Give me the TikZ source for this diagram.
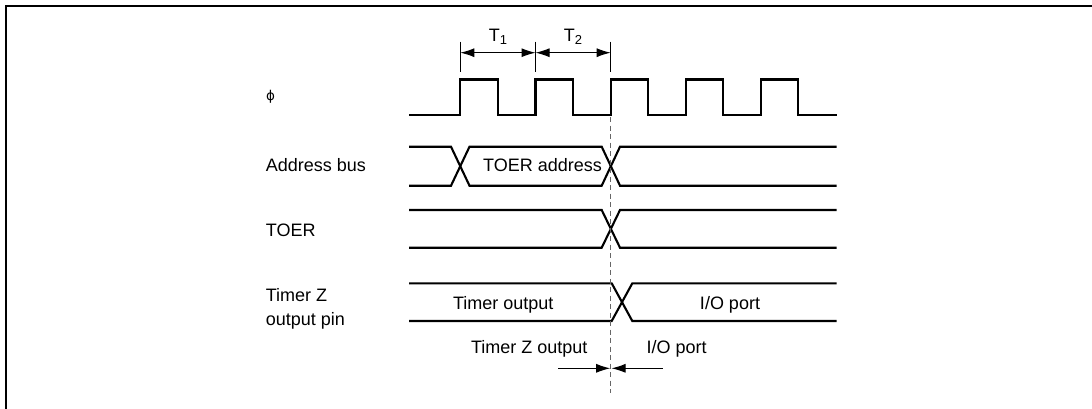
\documentclass[tikz,border=0pt]{standalone}
\usepackage{fontspec}
\setmainfont{Liberation Sans}
\newfontfamily\phifont{DejaVu Sans}
\usetikzlibrary{calc, positioning}
\usetikzlibrary{arrows.meta}

\newcommand{\tsub}[1]{\raisebox{-3.3pt}{\fontsize{13}{13}\selectfont #1}}

\tikzset{
  sig/.style={line width=2.1pt, black, line join=miter},
  dim/.style={line width=1pt, black},
  tip/.style={-{Latex[length=14pt,width=9pt]}},
  both/.style={{Latex[length=14pt,width=9pt]}-{Latex[length=14pt,width=9pt]}},
  cut/.style={line width=1.3pt, black!60, dash pattern=on 5pt off 3.5pt},
  lbl/.style={font=\fontsize{18}{22}\selectfont, inner sep=0pt},
}

\begin{document}
\begin{tikzpicture}[x=1pt,y=-1pt]
\useasboundingbox (0,0) rectangle (1092,408);
\def\xs{409}
\def\xe{836.7}
\def\lo{115}
\def\hi{79.5}
\def\xc{610.7}

% Frame
\draw[line width=2.4pt] (5.7,410) -- (5.7,5.7) -- (1095,5.7);

% Signal names
\node[lbl, anchor=base west] (phi) at (266,100.5) {\phifont\fontsize{13.5}{13.5}\selectfont ϕ};
\node[lbl, anchor=base west] (addr) at (265.7,171.7) {Address bus};
\node[lbl, anchor=base west] (toer) at (265.7,236.7) {TOER};
\node[lbl, anchor=base west] (tzpin) at (265.7,301.7) {Timer Z};
\node[lbl, anchor=base west] (tzpinb) at (265.7,325) {output pin};

% Clock
\draw[sig] (\xs,\lo) -- (460.3,\lo) -- (460.3,\hi) -- (497.6,\hi) -- (497.6,\lo)
  -- (535.5,\lo) -- (535.5,\hi) -- (572.8,\hi) -- (572.8,\lo)
  -- (\xc,\lo) -- (\xc,\hi) -- (648,\hi) -- (648,\lo)
  -- (685.9,\lo) -- (685.9,\hi) -- (723.2,\hi) -- (723.2,\lo)
  -- (761.1,\lo) -- (761.1,\hi) -- (798.4,\hi) -- (798.4,\lo) -- (\xe,\lo);

% State T1 and T2
\coordinate (ta) at (460.3,52.7);
\coordinate (tb) at (535.5,52.7);
\coordinate (tc) at (\xc,52.7);
\draw[dim] (460.3,41.7) -- (460.3,71.7);
\draw[dim] (535.5,41.7) -- (535.5,71.7);
\draw[dim] (\xc,41.7) -- (\xc,71.7);
\draw[dim, both] (ta) -- (tb)
    node[lbl, midway, anchor=base, yshift=11.7pt] (t1) {T\tsub{1}};
\draw[dim, both] (tb) -- (tc)
    node[lbl, midway, anchor=base, yshift=11.7pt] (t2) {T\tsub{2}};

% Address bus
\draw[sig] (\xs,146.7) -- (451,146.7) -- (469.5,185.7) -- (601.7,185.7)
    -- (620,146.7) -- (\xe,146.7);
\draw[sig] (\xs,185.7) -- (451,185.7) -- (469.5,146.7) -- (601.7,146.7)
    -- (620,185.7) -- (\xe,185.7);
\node[lbl, anchor=base] (toeraddr) at (542.5,171.7) {TOER address};

% TOER
\draw[sig] (\xs,210) -- (601.7,210) -- (620,247.7) -- (\xe,247.7);
\draw[sig] (\xs,247.7) -- (601.7,247.7) -- (620,210) -- (\xe,210);

% Timer Z output pin
\draw[sig] (\xs,283.3) -- (611.7,283.3) -- (632.3,321) -- (\xe,321);
\draw[sig] (\xs,321) -- (611.7,321) -- (632.3,283.3) -- (\xe,283.3);
\node[lbl, anchor=base] (tmrout) at (503.3,309.3) {Timer output};
\node[lbl, anchor=base] (ioport) at (730,309.3) {I/O port};

% Switching point
\draw[cut] (\xc,117) -- (\xc,393);
\node[lbl, anchor=base] (tzout) at (529.2,353.3) {Timer Z output};
\node[lbl, anchor=base] (ioportb) at (676.7,353.3) {I/O port};
\coordinate (cl) at (558.3,368.3);
\coordinate (cr) at (662.7,368.3);
\draw[dim, tip] (cl) -- (\xc-0.5,368.3);
\draw[dim, tip] (cr) -- (\xc+0.8,368.3);
\end{tikzpicture}
\end{document}
